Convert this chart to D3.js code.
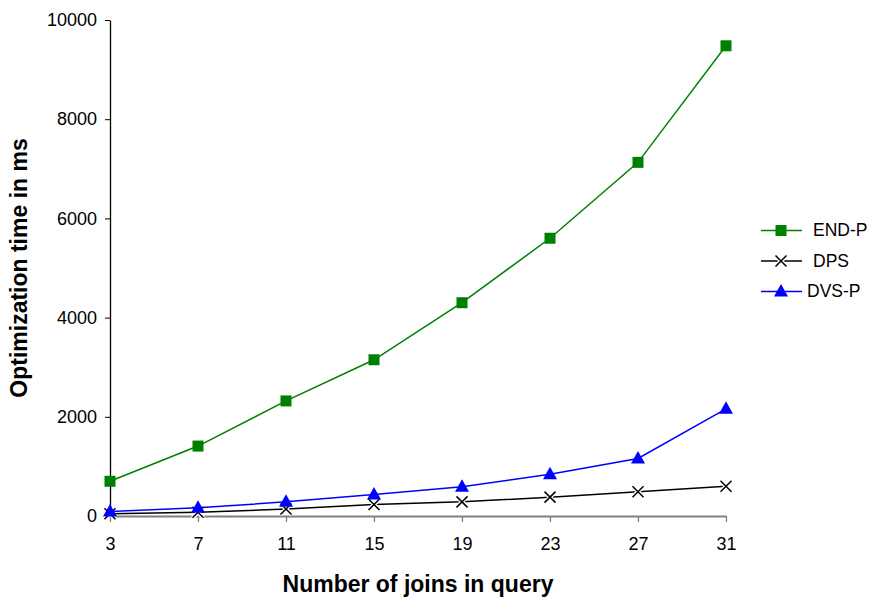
<!DOCTYPE html>
<html>
<head>
<meta charset="utf-8">
<script src="https://cdn.jsdelivr.net/npm/d3@7"></script>
<style>
  html, body { margin: 0; padding: 0; background: #fff; }
  svg { display: block; font-family: "Liberation Sans", Arial, sans-serif; }
</style>
</head>
<body>
<svg id="chart" width="872" height="599"></svg>
<script>
// Number of joins in the query (x categories)
const joins = [3, 7, 11, 15, 19, 23, 27, 31];
// Optimization time in ms for each algorithm
const endP = [700, 1410, 2320, 3150, 4300, 5600, 7130, 9480];
const dps  = [45, 75, 140, 230, 285, 380, 490, 600];
const dvsP = [90, 165, 285, 435, 590, 840, 1160, 2160];
const yTicks = [0, 2000, 4000, 6000, 8000, 10000];

const series = [
  { name: "END-P", values: endP, color: "#008000", marker: "square" },
  { name: "DPS",   values: dps,  color: "#000000", marker: "cross" },
  { name: "DVS-P", values: dvsP, color: "#0000ff", marker: "triangle" }
];

const FONT = "Liberation Sans, Arial, sans-serif";
const svg = d3.select("#chart");
const plotLeft = 110, plotRight = 726, plotTop = 20, plotBottom = 516;

const x = d3.scalePoint().domain(joins).range([plotLeft, plotRight]);
const y = d3.scaleLinear().domain([0, 10000]).range([plotBottom, plotTop]);

// y axis
const yAxis = svg.append("g")
  .attr("transform", `translate(${plotLeft},0)`)
  .call(d3.axisLeft(y).tickValues(yTicks).tickFormat(d3.format("d"))
    .tickSize(5).tickSizeOuter(0).tickPadding(8));
yAxis.select(".domain").attr("stroke", "#000").attr("stroke-width", 1.3);
yAxis.selectAll(".tick line").attr("stroke", "#000");
yAxis.selectAll(".tick text").attr("font-size", 18).attr("fill", "#000")
  .attr("font-family", FONT);

// x axis
const xAxis = svg.append("g")
  .attr("transform", `translate(0,${plotBottom})`)
  .call(d3.axisBottom(x).tickSize(6).tickSizeOuter(0).tickPadding(15));
xAxis.select(".domain").attr("stroke", "#808080").attr("stroke-width", 2);
xAxis.selectAll(".tick line").attr("stroke", "#808080").attr("stroke-width", 1.3);
xAxis.selectAll(".tick text").attr("font-size", 18).attr("fill", "#000")
  .attr("font-family", FONT);

// axis titles
svg.append("text")
  .attr("x", 418).attr("y", 592)
  .attr("text-anchor", "middle")
  .attr("font-family", FONT)
  .attr("font-size", 23).attr("font-weight", "bold")
  .text("Number of joins in query");
svg.append("text")
  .attr("transform", "translate(27,268) rotate(-90)")
  .attr("text-anchor", "middle")
  .attr("font-family", FONT)
  .attr("font-size", 23).attr("font-weight", "bold")
  .text("Optimization time in ms");

function drawMarker(g, type, cx, cy, color) {
  if (type === "square") {
    g.append("rect").attr("x", cx - 5.5).attr("y", cy - 5.5)
      .attr("width", 11).attr("height", 11).attr("fill", color);
  } else if (type === "triangle") {
    g.append("path")
      .attr("d", `M${cx},${cy - 7.5}L${cx + 7},${cy + 5}L${cx - 7},${cy + 5}Z`)
      .attr("fill", color);
  } else {
    const s = 5.5;
    g.append("path")
      .attr("d", `M${cx - s},${cy - s}L${cx + s},${cy + s}M${cx - s},${cy + s}L${cx + s},${cy - s}`)
      .attr("stroke", "#fff").attr("stroke-width", 4);
    g.append("path")
      .attr("d", `M${cx - s},${cy - s}L${cx + s},${cy + s}M${cx - s},${cy + s}L${cx + s},${cy - s}`)
      .attr("stroke", color).attr("stroke-width", 1.5);
  }
}

const line = d3.line().x((d, i) => x(joins[i])).y(d => y(d));

// draw in order: DPS, DVS-P, END-P
[series[1], series[2], series[0]].forEach(s => {
  const g = svg.append("g");
  g.append("path").datum(s.values).attr("d", line)
    .attr("fill", "none").attr("stroke", s.color).attr("stroke-width", 1.5);
  s.values.forEach((v, i) => drawMarker(g, s.marker, x(joins[i]), y(v), s.color));
});

// legend
const legend = svg.append("g");
series.forEach((s, i) => {
  const ly = 230.5 + i * 30.5;
  const g = legend.append("g");
  g.append("line").attr("x1", 761).attr("x2", 802).attr("y1", ly).attr("y2", ly)
    .attr("stroke", s.color).attr("stroke-width", 1.5);
  drawMarker(g, s.marker, 781, ly, s.color);
  g.append("text").attr("x", s.name === "DVS-P" ? 807 : 813).attr("y", ly + 5.5)
    .attr("font-family", FONT)
    .attr("font-size", 17.5).text(s.name);
});
</script>
</body>
</html>
